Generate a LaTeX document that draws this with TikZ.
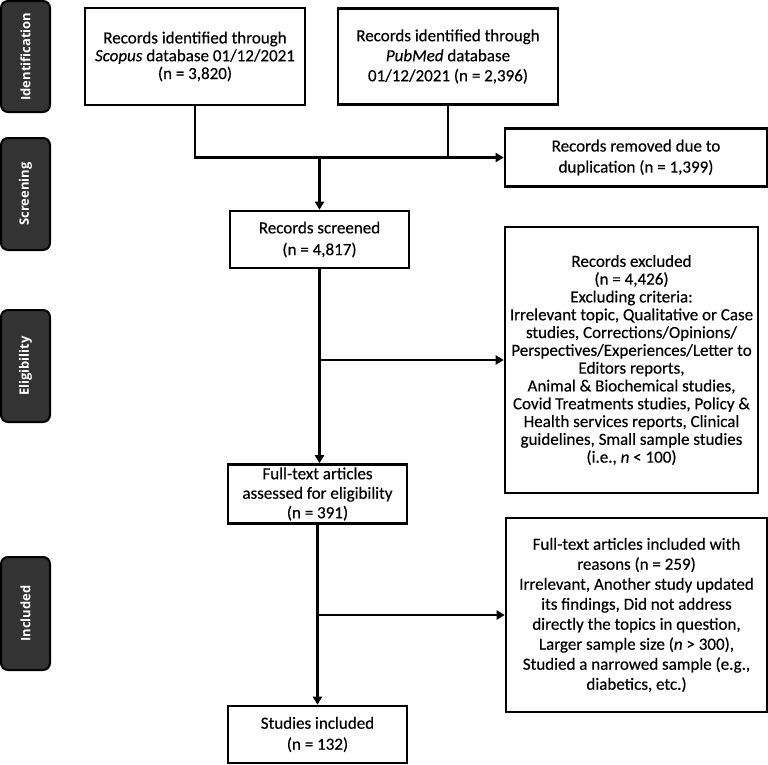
\documentclass[tikz,border=0pt]{standalone}
\usepackage{fontspec}
\setmainfont{Carlito}[FakeBold=0.35]
\newfontfamily\sidefont{Open Sans}
\usetikzlibrary{arrows.meta}
\definecolor{sidegray}{HTML}{333333}
\begin{document}
\begin{tikzpicture}[x=1pt,y=-1pt,
  box/.style={draw=black,line width=2.6pt,fill=white,align=center,inner sep=0pt,
    font=\fontsize{17}{17.8}\selectfont},
  sidebox/.style={draw=black,line width=2pt,fill=sidegray,rounded corners=7pt,
    minimum width=49pt,inner sep=0pt},
  sidetext/.style={text=white,rotate=90,font=\sidefont\bfseries\fontsize{13}{15}\selectfont},
  conn/.style={line width=2.8pt},
  arr/.style={conn,-{Triangle[length=8pt,width=9pt]}}]
\useasboundingbox (0,0) rectangle (768,764);
\fill[white] (0,0) rectangle (768,764);

% phase labels
\node[sidebox,minimum height=111pt] (s1) at (25.5,56.5) {};
\node[sidetext] (t1) at (s1.center) {Identification};
\node[sidebox,minimum height=112pt] (s2) at (25.5,194) {};
\node[sidetext] (t2) at (s2.center) {Screening};
\node[sidebox,minimum height=112pt] (s3) at (25.5,366) {};
\node[sidetext] (t3) at (s3.center) {Eligibility};
\node[sidebox,minimum height=113pt] (s4) at (25.5,613.5) {};
\node[sidetext] (t4) at (s4.center) {Included};

% boxes
\node[box,minimum width=220pt,minimum height=97pt] (scopus) at (195,56.5)
  {Records identified through\\ \textit{Scopus} database 01/12/2021\\ (n = 3,820)};
\node[box,minimum width=220pt,minimum height=96pt,font=\fontsize{17}{20}\selectfont] (pubmed) at (448,56.5)
  {Records identified through\\ \textit{PubMed} database\\ 01/12/2021 (n = 2,396)};
\node[box,minimum width=262pt,minimum height=58pt,font=\fontsize{17}{21}\selectfont] (removed) at (636,157.5)
  {Records removed due to\\ duplication (n = 1,399)};
\node[box,minimum width=179pt,minimum height=57pt,font=\fontsize{17}{21.7}\selectfont] (screened) at (319.5,239.5)
  {Records screened\\ (n = 4,817)};
\node[box,minimum width=253pt,minimum height=266pt] (excluded) at (631.5,360)
  {Records excluded\\ (n = 4,426)\\ Excluding criteria:\\ Irrelevant topic, Qualitative or Case\\
   studies, Corrections/Opinions/\\ Perspectives/Experiences/Letter to\\ Editors reports,\\
   Animal \& Biochemical studies,\\ Covid Treatments studies, Policy \&\\
   Health services reports, Clinical\\ guidelines, Small sample studies\\ (i.e., \textit{n} < 100)};
\node[box,minimum width=179pt,minimum height=59pt,font=\fontsize{17}{19.5}\selectfont] (fulltext) at (317.5,494)
  {Full-text articles\\ assessed for eligibility\\ (n = 391)};
\node[box,minimum width=261pt,minimum height=194pt,font=\fontsize{17}{20}\selectfont] (incl) at (636.5,615)
  {Full-text articles included with\\ reasons (n = 259)\\ Irrelevant, Another study updated\\
   its findings, Did not address\\ directly the topics in question,\\
   Larger sample size (\textit{n} > 300),\\ Studied a narrowed sample (e.g.,\\ diabetics, etc.)};
\node[box,minimum width=179pt,minimum height=57pt,font=\fontsize{17}{21}\selectfont] (studies) at (317.5,734.5)
  {Studies included\\ (n = 132)};

% connectors
\coordinate (j1) at (screened.north |- removed.west);
\draw[arr] (scopus.south) |- (removed.west);
\draw[conn] (pubmed.south) -- (pubmed.south |- removed.west);
\draw[arr] (j1) -- (screened.north);
\coordinate (b1) at (screened.south |- excluded.west);
\draw[arr] (screened.south) -- (screened.south |- fulltext.north);
\draw[arr] (b1) -- (excluded.west);
\coordinate (b2) at (fulltext.south |- incl.west);
\draw[arr] (fulltext.south) -- (studies.north);
\draw[arr] (b2) -- (incl.west);
\end{tikzpicture}
\end{document}
